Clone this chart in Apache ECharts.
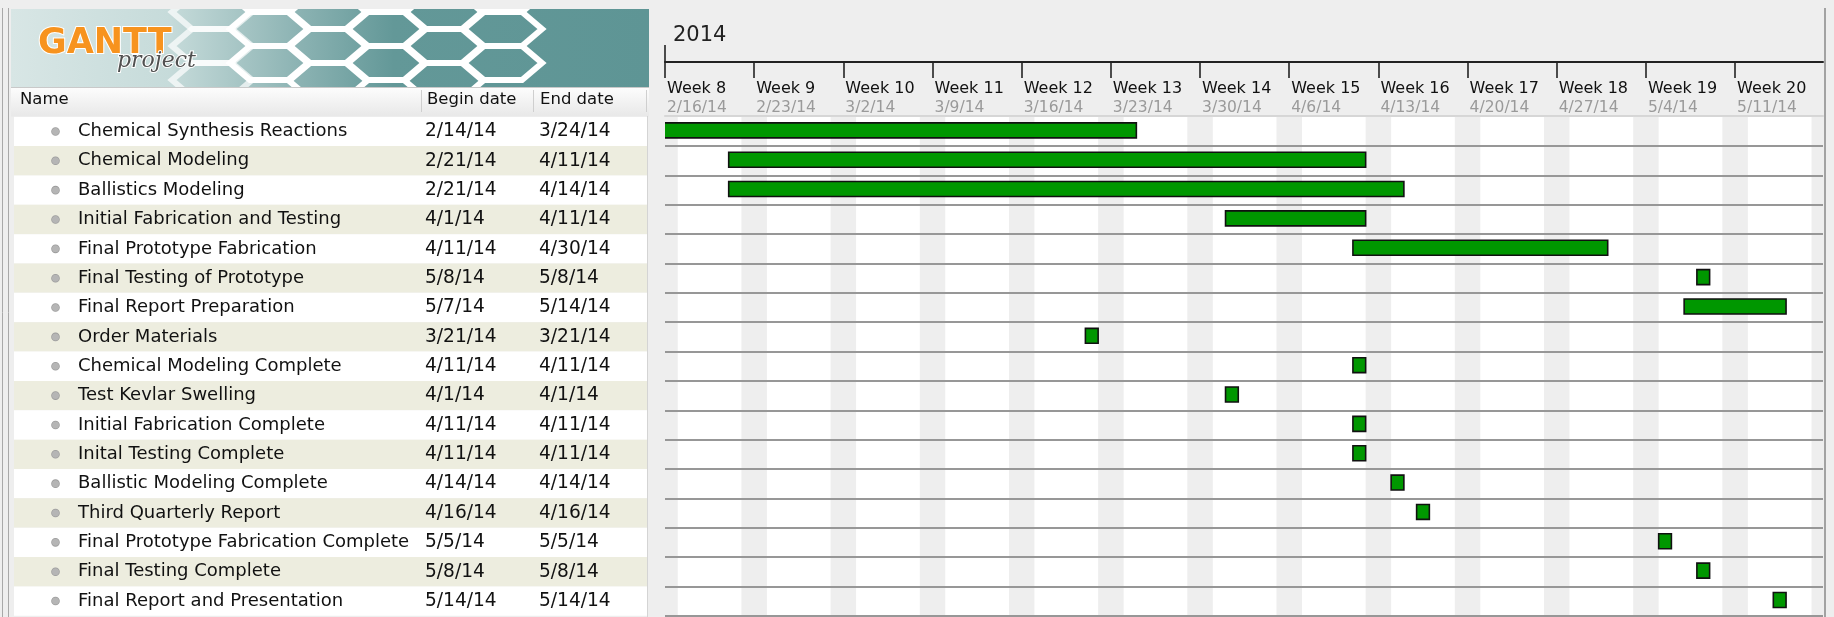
<!DOCTYPE html>
<html>
<head>
<meta charset="utf-8">
<script src="https://cdn.jsdelivr.net/npm/echarts@6/dist/echarts.min.js"></script>
<style>
  html, body { margin: 0; padding: 0; background: #eeeeee; }
  #chart { width: 1834px; height: 617px; }
</style>
</head>
<body>
<div id="chart"></div>
<script>
// ---- project data ----
const taskNames = [
  'Chemical Synthesis Reactions',
  'Chemical Modeling',
  'Ballistics Modeling',
  'Initial Fabrication and Testing',
  'Final Prototype Fabrication',
  'Final Testing of Prototype',
  'Final Report Preparation',
  'Order Materials',
  'Chemical Modeling Complete',
  'Test Kevlar Swelling',
  'Initial Fabrication Complete',
  'Inital Testing Complete',
  'Ballistic Modeling Complete',
  'Third Quarterly Report',
  'Final Prototype Fabrication Complete',
  'Final Testing Complete',
  'Final Report and Presentation'
];
const beginDates = [
  '2/14/14', '2/21/14', '2/21/14', '4/1/14', '4/11/14', '5/8/14', '5/7/14', '3/21/14',
  '4/11/14', '4/1/14', '4/11/14', '4/11/14', '4/14/14', '4/16/14', '5/5/14', '5/8/14', '5/14/14'
];
const endDates = [
  '3/24/14', '4/11/14', '4/14/14', '4/11/14', '4/30/14', '5/8/14', '5/14/14', '3/21/14',
  '4/11/14', '4/1/14', '4/11/14', '4/11/14', '4/14/14', '4/16/14', '5/5/14', '5/8/14', '5/14/14'
];
const tableHeader = ['Name', 'Begin date', 'End date'];

// ---- timeline header ----
const yearLabels = ['2014'];
const weekLabels = ['Week 8', 'Week 9', 'Week 10', 'Week 11', 'Week 12', 'Week 13', 'Week 14',
  'Week 15', 'Week 16', 'Week 17', 'Week 18', 'Week 19', 'Week 20'];
const weekDates = ['2/16/14', '2/23/14', '3/2/14', '3/9/14', '3/16/14', '3/23/14', '3/30/14',
  '4/6/14', '4/13/14', '4/20/14', '4/27/14', '5/4/14', '5/11/14'];
const viewStart = '2/16/14';   // first visible day of the timeline
const viewDays = 90.9;          // visible span, in days

// ---- date helpers: days counted from viewStart ----
function utcOf(s) {
  const [m, d, y] = s.split('/').map(Number);
  return Date.UTC(2000 + y, m - 1, d);
}
const ORIGIN = utcOf(viewStart);
const dayIndex = s => Math.round((utcOf(s) - ORIGIN) / 864e5);

const weekTicks = weekDates.map(dayIndex);
// weekend columns (Saturday + Sunday) across the visible span
const weekendStarts = [];
for (let d = -((new Date(ORIGIN).getUTCDay() + 1) % 7); d < viewDays; d += 7) weekendStarts.push(d);

// a task runs from its begin date to the end of its end date
const taskData = taskNames.map((n, i) => [i, dayIndex(beginDates[i]), dayIndex(endDates[i]) + 1]);

const FONT = 'DejaVu Sans';
const BODY_TOP = 116.75;
const HEADER_LINE = 62;

// ---- banner honeycomb ----
function hexPoints(cx, cy, w, h) {
  return [[cx - w, cy], [cx - w / 2, cy - h], [cx + w / 2, cy - h], [cx + w, cy], [cx + w / 2, cy + h], [cx - w / 2, cy + h]];
}
const hexes = [];
const HW = 40, HH = 17;
for (let c = 0; c < 6; c++) {
  const cx = 212 + c * 58;
  for (let r = -1; r < 4; r++) {
    const cy = 12 + r * 34 + (c % 2 ? 17 : 0);
    if (cy + HH > 112) continue;
    hexes.push({
      type: 'polygon', z: 1, silent: true,
      shape: { points: hexPoints(cx, cy, HW, HH) },
      style: { fill: 'none', stroke: '#ffffff', lineWidth: 6, opacity: c < 1 ? 0.7 : 1 }
    });
  }
}

const chart = echarts.init(document.getElementById('chart'), null, { renderer: 'canvas' });

const option = {
  backgroundColor: '#eeeeee',
  animation: false,
  grid: [
    { left: 14, top: BODY_TOP, width: 633, height: 499, outerBoundsMode: 'none' },                    // task table
    { left: 665, top: BODY_TOP, width: 1158, height: 499, show: true, backgroundColor: '#ffffff', borderWidth: 0, outerBoundsMode: 'none' } // timeline
  ],
  xAxis: [
    { gridIndex: 0, type: 'value', min: 0, max: 1, show: false },
    {
      // thin rule under the header
      gridIndex: 1, type: 'value', min: 0, max: viewDays, position: 'top', offset: 1.5,
      axisLine: { show: true, lineStyle: { color: '#d6d6d6', width: 2 } },
      axisTick: { show: false }, axisLabel: { show: false }, splitLine: { show: false }
    },
    {
      // week scale
      gridIndex: 1, type: 'value', min: 0, max: viewDays, position: 'top', offset: BODY_TOP - HEADER_LINE,
      axisLine: { show: true, lineStyle: { color: '#222', width: 2 } },
      axisTick: { show: true, inside: true, length: 16, customValues: weekTicks, lineStyle: { color: '#222', width: 1.6 } },
      axisLabel: {
        show: true, inside: true, margin: 17, align: 'left', verticalAlign: 'top', padding: [0, 0, 0, 2],
        customValues: weekTicks,
        formatter: v => {
          const i = weekTicks.indexOf(v);
          return i < 0 ? '' : '{w|' + weekLabels[i] + '}\n{d|' + weekDates[i] + '}';
        },
        rich: {
          w: { fontFamily: FONT, fontSize: 16, color: '#111', lineHeight: 19 },
          d: { fontFamily: FONT, fontSize: 15.5, color: '#9a9a9a', lineHeight: 19 }
        }
      },
      splitLine: { show: false }
    },
    {
      // year scale
      gridIndex: 1, type: 'value', min: 0, max: viewDays, position: 'top', offset: BODY_TOP - HEADER_LINE,
      axisLine: { show: false },
      axisTick: { show: true, length: 17, customValues: [0], lineStyle: { color: '#222', width: 1.6 } },
      axisLabel: {
        show: true, margin: 16, align: 'left', verticalAlign: 'bottom', padding: [0, 0, 0, 8],
        customValues: [0], formatter: () => yearLabels[0],
        fontFamily: FONT, fontSize: 21, color: '#222'
      },
      splitLine: { show: false }
    }
  ],
  yAxis: [
    {
      gridIndex: 0, type: 'category', data: taskNames, inverse: true,
      axisLine: { show: false }, axisTick: { show: false },
      splitArea: { show: true, interval: 0, areaStyle: { color: ['#ffffff', '#ededdf'] } },
      axisLabel: {
        show: true, inside: true, interval: 0, margin: 38,
        formatter: (v, i) => '{dot| }{gap| }{name|' + v + '}{b|' + beginDates[i] + '}{e|' + endDates[i] + '}',
        rich: {
          dot: { width: 7, height: 7, backgroundColor: '#b5b5b5', borderColor: '#9c9c9c', borderWidth: 0.8, borderRadius: 4, verticalAlign: 'middle' },
          gap: { width: 19, verticalAlign: 'middle' },
          name: { width: 347, fontFamily: FONT, fontSize: 18, color: '#111', verticalAlign: 'middle' },
          b: { width: 114, fontFamily: FONT, fontSize: 18.6, color: '#111', verticalAlign: 'middle' },
          e: { fontFamily: FONT, fontSize: 18.6, color: '#111', verticalAlign: 'middle' }
        }
      }
    },
    {
      gridIndex: 1, type: 'category', data: taskNames, inverse: true, z: 3,
      axisLine: { show: false }, axisTick: { show: false, interval: 0 }, axisLabel: { show: false, interval: 0 },
      splitLine: { show: true, interval: 0, showMinLine: false, lineStyle: { color: '#979797', width: 2 } }
    }
  ],
  series: [
    {
      name: 'weekends', type: 'custom', xAxisIndex: 1, yAxisIndex: 1, z: 1, clip: true, silent: true,
      data: weekendStarts.map(d => [d]),
      encode: { x: 0 },
      renderItem: (params, api) => {
        const d = api.value(0);
        const x0 = api.coord([d, 0])[0];
        const x1 = api.coord([d + 2, 0])[0];
        const cs = params.coordSys;
        return { type: 'rect', shape: { x: x0, y: cs.y, width: x1 - x0, height: cs.height }, style: { fill: '#eeeeee' } };
      }
    },
    {
      name: 'tasks', type: 'custom', xAxisIndex: 1, yAxisIndex: 1, z: 5, clip: true,
      data: taskData,
      encode: { x: [1, 2], y: 0 },
      renderItem: (params, api) => {
        const row = api.value(0);
        const p0 = api.coord([api.value(1), row]);
        const p1 = api.coord([api.value(2), row]);
        const band = api.size([0, 1])[1];
        const h = band * 0.51;
        return {
          type: 'rect',
          shape: { x: p0[0], y: p0[1] - band * 0.037 - h / 2, width: p1[0] - p0[0], height: h },
          style: { fill: '#009700', stroke: '#111111', lineWidth: 1.6 }
        };
      }
    }
  ],
  graphic: [
    // banner
    {
      type: 'rect', z: 0, silent: true, shape: { x: 11, y: 9, width: 638, height: 78 },
      style: {
        fill: new echarts.graphic.LinearGradient(0, 0, 1, 0, [
          { offset: 0, color: '#d8e6e5' }, { offset: 0.25, color: '#c6dbda' },
          { offset: 0.45, color: '#8cb3b3' }, { offset: 0.6, color: '#639898' }, { offset: 1, color: '#5e9595' }
        ])
      }
    },
    ...hexes,
    // covers that trim the honeycomb to the banner
    { type: 'rect', z: 2, silent: true, shape: { x: 0, y: 0, width: 665, height: 9 }, style: { fill: '#eeeeee' } },
    { type: 'rect', z: 2, silent: true, shape: { x: 649, y: 0, width: 15, height: 116 }, style: { fill: '#eeeeee' } },
    // logo
    {
      type: 'text', z: 3, silent: true, x: 38, y: 26,
      style: { text: 'GANTT', fontFamily: FONT, fontWeight: 'bold', fontSize: 35, fill: '#f7931e', stroke: '#ffffff', lineWidth: 2 }
    },
    {
      type: 'text', z: 3, silent: true, x: 117, y: 50,
      style: { text: 'project', fontFamily: 'DejaVu Serif', fontStyle: 'italic', fontSize: 22, fill: '#505050', stroke: '#ffffff', lineWidth: 2 }
    },
    // table header
    {
      type: 'rect', z: 2, silent: true, shape: { x: 11, y: 87, width: 638, height: 29.5 },
      style: {
        fill: new echarts.graphic.LinearGradient(0, 0, 0, 1, [
          { offset: 0, color: '#fdfdfd' }, { offset: 1, color: '#e8e8e8' }
        ])
      }
    },
    { type: 'line', z: 3, silent: true, shape: { x1: 11, y1: 87.5, x2: 649, y2: 87.5 }, style: { stroke: '#c9c9c9', lineWidth: 1 } },
    { type: 'line', z: 3, silent: true, shape: { x1: 421.5, y1: 90, x2: 421.5, y2: 112 }, style: { stroke: '#cfcfcf', lineWidth: 1 } },
    { type: 'line', z: 3, silent: true, shape: { x1: 533.5, y1: 90, x2: 533.5, y2: 112 }, style: { stroke: '#cfcfcf', lineWidth: 1 } },
    { type: 'line', z: 3, silent: true, shape: { x1: 646.5, y1: 90, x2: 646.5, y2: 112 }, style: { stroke: '#cfcfcf', lineWidth: 1 } },
    {
      type: 'text', z: 3, silent: true, x: 20, y: 100,
      style: { text: tableHeader[0], fontFamily: FONT, fontSize: 16.5, fill: '#111', verticalAlign: 'middle' }
    },
    {
      type: 'text', z: 3, silent: true, x: 427, y: 100,
      style: { text: tableHeader[1], fontFamily: FONT, fontSize: 16.5, fill: '#111', verticalAlign: 'middle' }
    },
    {
      type: 'text', z: 3, silent: true, x: 540, y: 100,
      style: { text: tableHeader[2], fontFamily: FONT, fontSize: 16.5, fill: '#111', verticalAlign: 'middle' }
    },
    // frame lines
    { type: 'line', z: 3, silent: true, shape: { x1: 2.5, y1: 8, x2: 2.5, y2: 617 }, style: { stroke: '#a8a8a8', lineWidth: 1 } },
    { type: 'line', z: 3, silent: true, shape: { x1: 8.5, y1: 8, x2: 8.5, y2: 617 }, style: { stroke: '#a8a8a8', lineWidth: 1 } },
    { type: 'line', z: 3, silent: true, shape: { x1: 647.5, y1: 116, x2: 647.5, y2: 617 }, style: { stroke: '#d4d4d4', lineWidth: 1 } },
    { type: 'line', z: 3, silent: true, shape: { x1: 1825, y1: 8, x2: 1825, y2: 617 }, style: { stroke: '#a2a2a2', lineWidth: 2 } }
  ]
};

chart.setOption(option);
</script>
</body>
</html>
